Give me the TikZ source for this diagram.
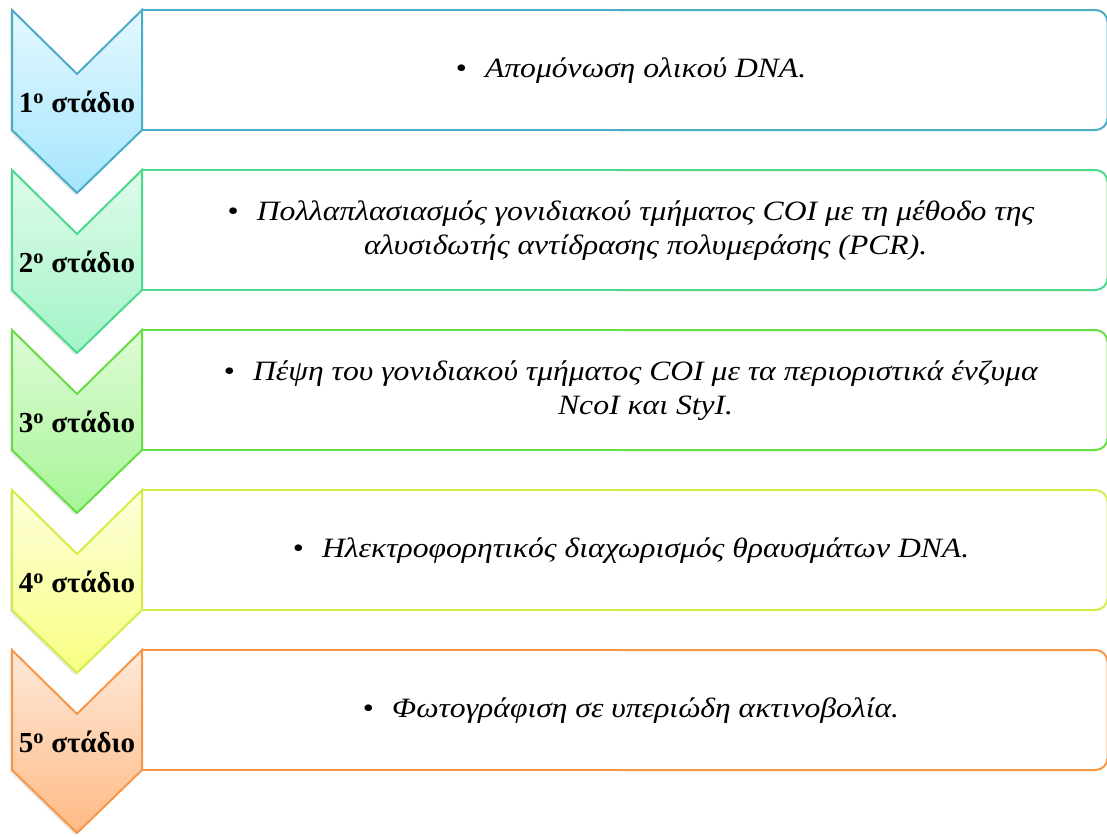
\documentclass[tikz,border=0pt]{standalone}
\usepackage{fontspec}
\setmainfont{Liberation Serif}
\newfontfamily\bodyfont[FakeStretch=1.13]{Liberation Serif}
\usetikzlibrary{shadows}
\definecolor{s1}{HTML}{4BACC6}\definecolor{t1}{HTML}{E4F8FF}\definecolor{b1}{HTML}{A4E5FC}
\definecolor{s2}{HTML}{4CD98C}\definecolor{t2}{HTML}{DFFBEB}\definecolor{b2}{HTML}{A2F4C6}
\definecolor{s3}{HTML}{66DD44}\definecolor{t3}{HTML}{DFFBD6}\definecolor{b3}{HTML}{A6F597}
\definecolor{s4}{HTML}{D4EC48}\definecolor{t4}{HTML}{FEFFDA}\definecolor{b4}{HTML}{F8FF82}
\definecolor{s5}{HTML}{F79646}\definecolor{t5}{HTML}{FDE9D9}\definecolor{b5}{HTML}{FFBA85}
\tikzset{
  edge/.style={line width=2pt, line join=round},
  chev/.style={line width=2pt, line join=miter},
  lbl/.style={font=\fontsize{29}{32}\selectfont\bfseries, inner sep=0pt},
  txt/.style={font=\bodyfont\fontsize{28}{35}\selectfont, inner sep=0pt, align=center},
}
\newcommand{\drawstage}[5]{%
  % #1 index, #2 top, #3 stroke, #4 top colour, #5 bottom colour
  \draw[edge, draw=#3] (620,#2) -- (142,#2) -- (142,#2+120) -- (620,#2+120);
  \draw[edge, draw=#3, rounded corners=12pt] (620,#2) -- (1107.5,#2) -- (1107.5,#2+120) -- (620,#2+120);
  \draw[chev, draw=#3, top color=#4, bottom color=#5,
        drop shadow={shadow xshift=-2pt, shadow yshift=-2pt, opacity=0.18}]
     (12,#2) -- (77,#2+64) -- (142,#2) -- (142,#2+120) -- (77,#2+183) -- (12,#2+120) -- cycle;
  \node[lbl] (lab#1) at (77,#2+92) {#1\textsuperscript{ο} στάδιο};
}
\begin{document}
\begin{tikzpicture}[x=1pt, y=-1pt]
\useasboundingbox (0,0) rectangle (1107,836);
\drawstage{1}{10}{s1}{t1}{b1}
\drawstage{2}{170}{s2}{t2}{b2}
\drawstage{3}{330}{s3}{t3}{b3}
\drawstage{4}{490}{s4}{t4}{b4}
\drawstage{5}{650}{s5}{t5}{b5}
\node[txt] (d1) at (631,71) {\textbullet\hspace{0.65em}\textit{Απομόνωση ολικού DNA.}};
\node[txt] (d2) at (631,230) {\textbullet\hspace{0.65em}\begin{tabular}[t]{@{}c@{}}\textit{Πολλαπλασιασμός γονιδιακού τμήματος COI με τη μέθοδο της}\\[-1pt]\textit{αλυσιδωτής αντίδρασης πολυμεράσης (PCR).}\end{tabular}};
\node[txt] (d3) at (631,390) {\textbullet\hspace{0.65em}\begin{tabular}[t]{@{}c@{}}\textit{Πέψη του γονιδιακού τμήματος COI με τα περιοριστικά ένζυμα}\\[-1pt]\textit{NcoI και StyI.}\end{tabular}};
\node[txt] (d4) at (631,551) {\textbullet\hspace{0.65em}\textit{Ηλεκτροφορητικός διαχωρισμός θραυσμάτων DNA.}};
\node[txt] (d5) at (631,711) {\textbullet\hspace{0.65em}\textit{Φωτογράφιση σε υπεριώδη ακτινοβολία.}};
\end{tikzpicture}
\end{document}
